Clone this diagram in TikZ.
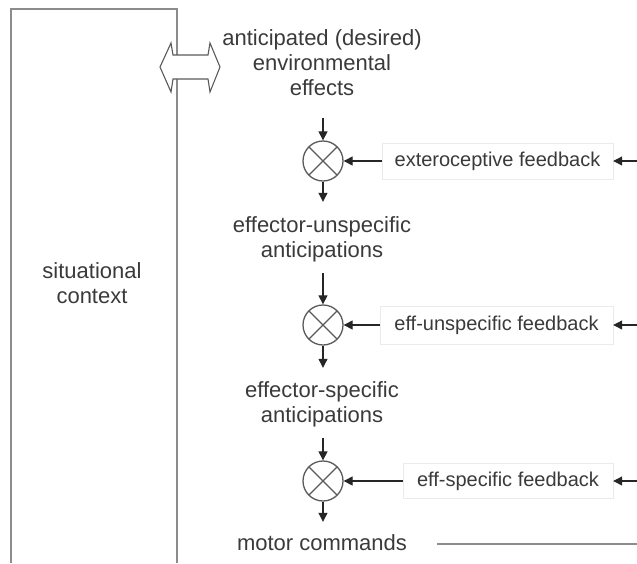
\documentclass[tikz,border=0pt]{standalone}
\usepackage{fontspec}
\setmainfont{Liberation Sans}
\usetikzlibrary{arrows.meta}
\definecolor{ink}{HTML}{3A3A3A}
\definecolor{rule}{HTML}{8C8C8C}
\definecolor{ring}{HTML}{5A5A5A}
\begin{document}
\begin{tikzpicture}[x=1pt,y=-1pt,
  label/.style={font=\fontsize{22}{25}\selectfont, text=ink, align=center, inner sep=0pt},
  fbbox/.style={draw=black!8, fill=white, font=\fontsize{20}{24}\selectfont,
    text=ink, inner sep=0pt, minimum height=36pt},
  mixer/.style={circle, draw=ring, line width=1.3pt, minimum size=40pt, inner sep=0pt,
    path picture={\draw[ring, line width=1.1pt]
      (path picture bounding box.north west) -- (path picture bounding box.south east)
      (path picture bounding box.north east) -- (path picture bounding box.south west);}},
  arr/.style={line width=1.1pt, draw=black!85, -{Triangle[length=9pt,width=9pt]}}]
\useasboundingbox (0,0) rectangle (637,563);

% context frame, open at the bottom
\draw[rule, line width=1.4pt] (11,563) -- (11,9) -- (177,9) -- (177,563);
\node[label] (ctx) at (92,286.2) {\strut situational\\\strut context};

% two-way exchange between context and desired effects
\draw[ring, fill=white, line width=1.1pt, line join=miter]
  (160,67) -- (171,43) -- (173,55) -- (208,55) -- (210,43) -- (220,67)
  -- (210,92) -- (208,79) -- (173,79) -- (171,92) -- cycle;

% main chain (each line carries a strut so the box height is fixed)
\node[label] (l1) at (322,65.7) {\strut anticipated (desired)\\\strut environmental\\\strut effects};
\node[mixer] (c1) at (323,161) {};
\node[label] (l2) at (322,240.2) {\strut effector-unspecific\\\strut anticipations};
\node[mixer] (c2) at (323,325) {};
\node[label] (l3) at (322,405.2) {\strut effector-specific\\\strut anticipations};
\node[mixer] (c3) at (323,481) {};
\node[label] (mc) at (322,545.7) {\strut motor commands};

\draw[arr, shorten <=14.8pt] (l1.south -| c1.north) -- (c1.north);
\draw[arr, shorten >=13.2pt] (c1.south) -- (l2.north -| c1.south);
\draw[arr, shorten <=7.8pt] (l2.south -| c2.north) -- (c2.north);
\draw[arr, shorten >=12.2pt] (c2.south) -- (l3.north -| c2.south);
\draw[arr, shorten <=7.8pt] (l3.south -| c3.north) -- (c3.north);
\draw[arr, shorten >=11.2pt] (c3.south) -- (mc.north -| c3.south);

% feedback signals
\node[fbbox, minimum width=231pt] (f1) at (497.5,161) {exteroceptive feedback};
\node[fbbox, minimum width=233pt, minimum height=38pt] (f2) at (496.5,325) {eff-unspecific feedback};
\node[fbbox, minimum width=210pt, minimum height=35pt] (f3) at (508,481) {eff-specific feedback};

\coordinate (r1) at (637,161);
\coordinate (r2) at (637,325);
\coordinate (r3) at (637,481);
\draw[arr] (f1.west) -- (c1.east);
\draw[arr] (f2.west) -- (c2.east);
\draw[arr] (f3.west) -- (c3.east);
\draw[arr] (r1) -- (f1.east);
\draw[arr] (r2) -- (f2.east);
\draw[arr] (r3) -- (f3.east);

% outgoing motor command line
\coordinate (mout) at (637,544);
\draw[rule, line width=2.2pt] ([xshift=30pt]mc.east |- mout) -- (mout);
\end{tikzpicture}
\end{document}
